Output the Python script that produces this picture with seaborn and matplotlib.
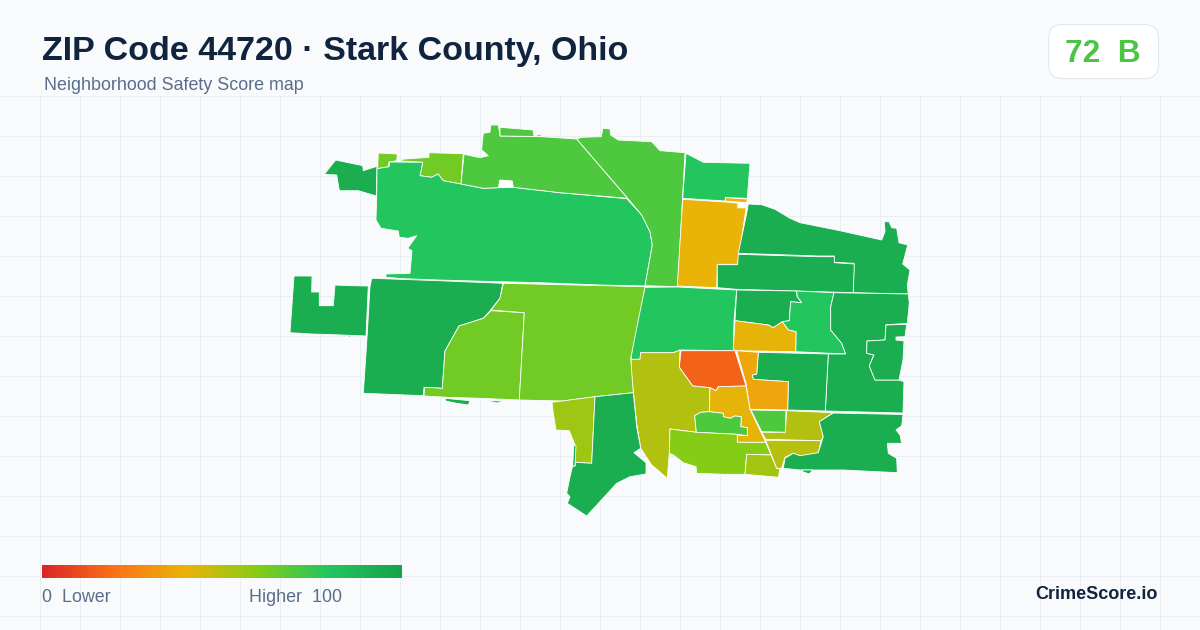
# ZIP 44720 safety score map, rebuilt with seaborn / matplotlib
# Map coordinates below are read off the picture, axes run in image pixels

import numpy as np
import seaborn as sns
import matplotlib.pyplot as plt
from matplotlib.colors import LinearSegmentedColormap
from matplotlib.patches import FancyBboxPatch

# Data ---------------------------------------------------------------------

title = "ZIP Code 44720 \u00b7 Stark County, Ohio"
subtitle = "Neighborhood Safety Score map"
score_text = "72  B"
brand = "CrimeScore.io"

scale_stops = [0, 20, 40, 60, 80, 100]
scale_colors = ["#DC2626", "#F97316", "#EAB308", "#84CC16", "#22C55E", "#16A34A"]

nw_spike = [(324.3,174.3),(335.7,160),(362.7,165.7),(363.3,170.7),(377,166.3),(376.3,196),(358.3,190.7),(339.3,190.7),(336.7,175)]
nw_small = [(378.3,153),(397.3,154),(396.7,160.7),(389,162),(388.3,166.7),(377.7,168.7)]
nw_lime = [(401.7,159.3),(429,157.3),(429,152.7),(463.3,153.7),(461,184),(443.3,180.7),(438,174),(431.7,177.3),(420,175.7),(422.7,162.3),(401.7,161)]
main_north = [(377,168.7),(389,166.7),(389.7,162),(422.7,162.3),(420,175.7),(431.7,177.3),(438,174),(443.3,180.7),(461,184),(483.3,188.3),(498.3,187.7),(513.3,187.3),(560,192.7),(626.7,198.7),(641.7,215),(650,231.7),(652.3,245),(645,286),(600,285),(540,282.7),(473.3,281),(438.3,280),(403.3,278.7),(386,277.3),(386,274),(410,273.3),(412,250.7),(407.7,248.3),(416.7,235.7),(408.3,238.3),(399.3,237.3),(398.3,231),(381,228.3),(376,220),(376.7,196)]
north_light = [(483.3,133.3),(490,132.3),(490.7,125),(498.3,125),(500,136),(541.7,136.7),(576.7,139),(627.7,198.3),(560,192.7),(513.3,187.3),(512.3,181),(500,180),(498.3,187.7),(483.3,188.3),(461,184),(464,154.3),(480,157.7),(488.3,155.7),(481.7,150),(482.3,141.7)]
north_tab = [(500,127.3),(533,130),(534,135.7),(541,134.5),(541,136.5),(500,136)]
north_east = [(576.7,139),(581.7,137.3),(601.3,136.7),(602.7,128.3),(610,129),(610.7,135),(618.3,140),(651.7,141.7),(660,150.7),(685,152.7),(677.7,286.7),(645,285.7),(652.3,245),(650,231.7),(641.7,215),(627.7,198.3)]
north_box = [(686,153.3),(703.3,162.3),(750,163.3),(747.3,198.3),(725.3,197.7),(725.3,201),(682.7,198.3)]
amber_north = [(682.7,199.3),(725.3,202),(746.7,204),(737.7,264.3),(717.3,264.3),(716.7,287.7),(677.3,286)]
amber_strip = [(725.3,197.7),(747.3,199),(746.7,202.7),(725.3,201)]
ne_upper = [(748.3,204),(761.7,204.7),(775,209.3),(790,218.3),(800,222.7),(840,230.7),(881.7,240),(885,231.7),(884.3,221.7),(889,221.7),(891.7,227.7),(896.7,228.3),(899,242.7),(907.7,245),(902.7,264),(910,270),(907.3,285),(908.3,294),(853.3,292.7),(854,263.3),(834.3,262.3),(834.3,256),(818.3,256),(738.3,253.3),(746.7,213.3)]
ne_lower = [(738.3,254.3),(818.3,256.7),(834.3,256.7),(834.3,262.7),(854.3,264),(853.3,292.7),(736.7,289.3),(717.3,287.7),(717.3,264.7),(737.7,264.7)]
center = [(645,287.3),(677.3,287),(736.7,290),(734,320.7),(733.3,348.3),(735,350.7),(680,350),(673.3,352.7),(640.7,352.7),(640,359.3),(631,359.3),(635,330)]
center_dark = [(736.7,290),(796,291),(797.3,296.7),(801.7,302.7),(790.7,301.7),(789.3,320.7),(782.3,321.7),(773.3,327.7),(768.3,325),(735,320.7)]
center_right = [(796.7,291),(834,292.7),(830.7,306.7),(830.7,330),(841.7,343.3),(845.7,354),(795.7,351.7),(796,331.7),(788.3,330),(782.3,321.7),(789.3,320.7),(790.7,301.7),(801.7,302.7),(797.3,296.7)]
amber_upper = [(735,320.7),(768.3,325),(773.3,327.7),(782.3,321.7),(788.3,330),(796,331.7),(795.7,351.7),(735,350.7),(733.3,348.3)]
east_outer = [(834,292.7),(908.3,294),(909.3,303),(907.3,323.5),(886,324.7),(885,340),(867,341),(866.7,353.3),(873.7,355),(869.3,366),(875,380),(899,380),(904,381.7),(903,413),(825.3,411),(828.3,354),(845.7,354),(841.7,343.3),(830.7,330),(830.7,306.7)]
east_inner = [(886,325),(906.7,324.3),(905,336.7),(896,337),(896,340),(904,341),(903,360),(899,380),(875,380),(869.3,366),(874,355),(866.7,353.3),(867,341),(885,340)]
mid_dark = [(758.3,352.3),(828.3,354),(825.3,411),(787.7,410),(788.3,381.7),(753.3,379.3),(752.3,375),(756.7,374)]
amber_orange = [(736.7,350.7),(758.3,352.3),(756.7,374),(752.3,375),(753.3,379.3),(788.3,381.7),(787.7,410),(750,409.3),(746,383.3)]
red_core = [(681,350.7),(735,350.7),(746,386),(718.3,386.7),(716,390.7),(710,387.7),(692.7,386),(679.3,367.3)]
olive_west = [(631,359.3),(640,359.3),(640.7,352.7),(673.3,352.7),(680,350),(679.3,367.3),(692.7,386),(710,387.7),(709.3,411.7),(700.7,412.3),(694.7,415.7),(696.3,432.3),(670,429),(669.3,453.3),(667.3,478.3),(651.7,465),(640.7,448.3),(636.7,423.3),(631.7,376.7)]
amber_mid = [(710,387.7),(716,390.7),(718.3,386.7),(746,386),(750,409.3),(765.7,442.3),(737.3,442.3),(737.3,435),(747.3,435.7),(747.3,427.7),(740.7,426.7),(741.3,416.7),(735,416),(730,418.3),(723.3,416.7),(723.3,413.3),(709.3,411.7)]
light_inner = [(694.7,415.7),(700.7,412.3),(709.3,411.7),(723.3,413.3),(723.3,416.7),(730,418.3),(735,416),(741.3,416.7),(740.7,426.7),(747.3,427.7),(747.3,435.7),(737.3,434.3),(696.3,432.3)]
lime_south = [(670,429),(696.3,432.3),(737.3,434.3),(737.3,442.3),(765.7,442.3),(771,455),(746.7,454.3),(745,474.3),(723.3,474.3),(696.7,473.3),(696,466.7),(683.3,462.7),(673.3,455),(669.3,453.3)]
lime_bottom = [(746.7,454.3),(771,455),(776.7,468.3),(780,469),(778.3,477.3),(745,474.3)]
light_box = [(751,410),(786,410.7),(785.3,432.3),(761.7,431.7)]
olive_east = [(786.7,410.7),(833.3,412.7),(819.3,421.7),(823.3,436.7),(821,440.7),(765.7,439.3),(761.7,432.3),(785.3,432.3)]
olive_south = [(765.7,440.3),(821,440.7),(818.3,452.7),(806.7,455),(800,455.7),(793.3,453.3),(785,457.3),(781.7,468.3),(776.7,468.3)]
se_dark = [(833.3,413),(903,414.5),(901.7,425.7),(896,430),(900,435),(901.7,443.3),(887.3,443.3),(888.3,453.3),(896.7,458.3),(897.3,472.7),(843.3,470),(800,470),(783.3,468.3),(785,458.3),(793.3,453.3),(800,455.7),(818.3,452.7),(823.3,436.7),(819.3,421.7)]
se_sliver = [(801.7,470),(812.7,470),(809.3,474),(802.7,471.7)]
west_far = [(294,276),(312,276),(311.7,292),(319.3,292),(319.3,305.7),(333.3,305.7),(335,285),(351,285.7),(368.3,286),(366,336),(341.7,335),(311.7,334),(290,332.7)]
west_sliver = [(341,335.7),(354,335.7),(350,337)]
west_large = [(371.7,278.3),(438.3,280.7),(502.7,283.3),(500,298.3),(490,310.7),(483.3,318.3),(459,326),(445,351),(442.3,388.3),(424,387.3),(423.3,395.7),(363.3,393.3),(367.3,333.3),(370,286.7)]
lime_left = [(491,310.7),(524.3,312.7),(519.3,400),(480,398.3),(446.7,397.3),(424,396),(424.7,387.3),(442.3,388.3),(445,351),(459,326),(483.3,318.3)]
lime_large = [(503.3,283.3),(645,286.7),(630.7,358.3),(633.3,392.7),(595,396.7),(563.3,401),(519.3,400),(524.3,312.7),(491,310),(500,298.3)]
under_a = [(445,398.3),(470,400.7),(468.3,405),(456.7,403.3),(445.7,401)]
under_b = [(486,400.7),(505,401),(496.7,403)]
under_c = [(526.7,401),(534,401),(530,402)]
south_lime = [(552,402.3),(595,396.7),(591.7,463.3),(575.7,462.3),(575,445),(569.3,430.7),(556,430),(553.3,413.3)]
south_dark = [(595,396.7),(633.3,392.7),(636.7,426.7),(640.7,448.3),(634,452.7),(646,462.7),(646,474),(630,476.7),(616.7,483.3),(586.7,516),(567.3,503.3),(570,496.7),(566.7,493.3),(570,476.7),(572.7,466),(575,466),(575.7,462.3),(591.7,463.3)]
south_sliver = [(573.7,445.7),(576,445.7),(575,466),(572.7,466)]

# white gaps in the map
hole_north = [(499.5,180),(512,181),(513,187.4),(498.5,187.8)]
hole_east = [(737.3,203.3),(747.8,204),(747,208.3),(737.3,208.3)]

# (shape, score) pairs, score estimated from the fill colour
tracts = [
    (nw_spike, 93), (nw_small, 64), (nw_lime, 64), (main_north, 80),
    (north_light, 71), (north_tab, 71), (north_east, 71), (north_box, 80),
    (amber_north, 40), (amber_strip, 40), (ne_upper, 93), (ne_lower, 93),
    (center, 80), (center_dark, 93), (center_right, 80), (amber_upper, 41),
    (east_outer, 93), (east_inner, 93), (mid_dark, 93), (amber_orange, 36),
    (red_core, 16), (olive_west, 51), (amber_mid, 41), (light_inner, 71),
    (lime_south, 60), (lime_bottom, 54), (light_box, 71), (olive_east, 51),
    (olive_south, 50), (se_dark, 93), (se_sliver, 93), (west_far, 93),
    (west_sliver, 93), (west_large, 93), (lime_left, 64), (lime_large, 64),
    (under_a, 93), (under_b, 93), (under_c, 50), (south_lime, 55),
    (south_dark, 93), (south_sliver, 93),
]

# Figure setup --------------------------------------------------------------

sns.set_theme(style="white")
plt.rcParams['font.family'] = ['Liberation Sans', 'DejaVu Sans']

bg = "#F8FAFC"
grid_color = "#E8EEF4"
navy = "#10243E"
slate = "#5A6E8C"

fig = plt.figure(figsize=(12, 6.3), dpi=100, facecolor=bg)


def to_fig(x, y):
    return x / 1200, 1 - y / 630


# Map axes start under the header, the grid stops there too
ax = fig.add_axes([0, 0, 1, 534 / 630], facecolor=bg)
ax.set_xlim(0, 1200)
ax.set_ylim(630, 96)
ax.set_xticks(np.arange(40, 1200, 40))
ax.set_yticks(np.arange(96, 630, 40))
ax.grid(True, color=grid_color, lw=0.72)
ax.set_axisbelow(True)
ax.tick_params(length=0, labelleft=False, labelbottom=False)
sns.despine(ax=ax, left=True, bottom=True, top=True, right=True)

cmap = LinearSegmentedColormap.from_list(
    "score", [(s / 100, c) for s, c in zip(scale_stops, scale_colors)])

for shape, score in tracts:
    xs, ys = zip(*shape)
    ax.fill(xs, ys, facecolor=cmap(score / 100), edgecolor="white",
            lw=0.6, joinstyle="round", zorder=2)

for hole in [hole_north, hole_east]:
    xs, ys = zip(*hole)
    ax.fill(xs, ys, facecolor="white", edgecolor="none", zorder=3)

# Legend gradient ----------------------------------------------------------

cax = fig.add_axes([42 / 1200, 1 - 578 / 630, 360 / 1200, 13 / 630])
sns.heatmap(np.arange(0, 101).reshape(1, -1), ax=cax, cmap=cmap, vmin=0,
            vmax=100, cbar=False, xticklabels=False, yticklabels=False)

# Header and footer text ---------------------------------------------------

fig.text(*to_fig(42, 60), title, fontsize=24.5, fontweight="bold", color=navy)
fig.text(*to_fig(44, 90.5), subtitle, fontsize=12.9, color=slate)

fig.text(*to_fig(42, 602), "0  Lower", fontsize=12.9, color=slate)
fig.text(*to_fig(249, 602), "Higher  100", fontsize=12.9, color=slate)
fig.text(*to_fig(1158, 599), brand, fontsize=13, fontweight="bold",
         color=navy, ha="right")

# badge is placed in pixels, display space counts from the bottom
badge = FancyBboxPatch((1048.5, 630 - 78.5), 110, 54,
                       boxstyle="round,pad=0,rounding_size=14",
                       transform=None, facecolor="white", edgecolor="#E2E8F0", lw=0.8)
fig.add_artist(badge)
fig.text(*to_fig(1103, 62), score_text, fontsize=22.8, fontweight="bold",
         color="#4CC444", ha="center")

fig.savefig("out.png", dpi=100, facecolor=bg)
